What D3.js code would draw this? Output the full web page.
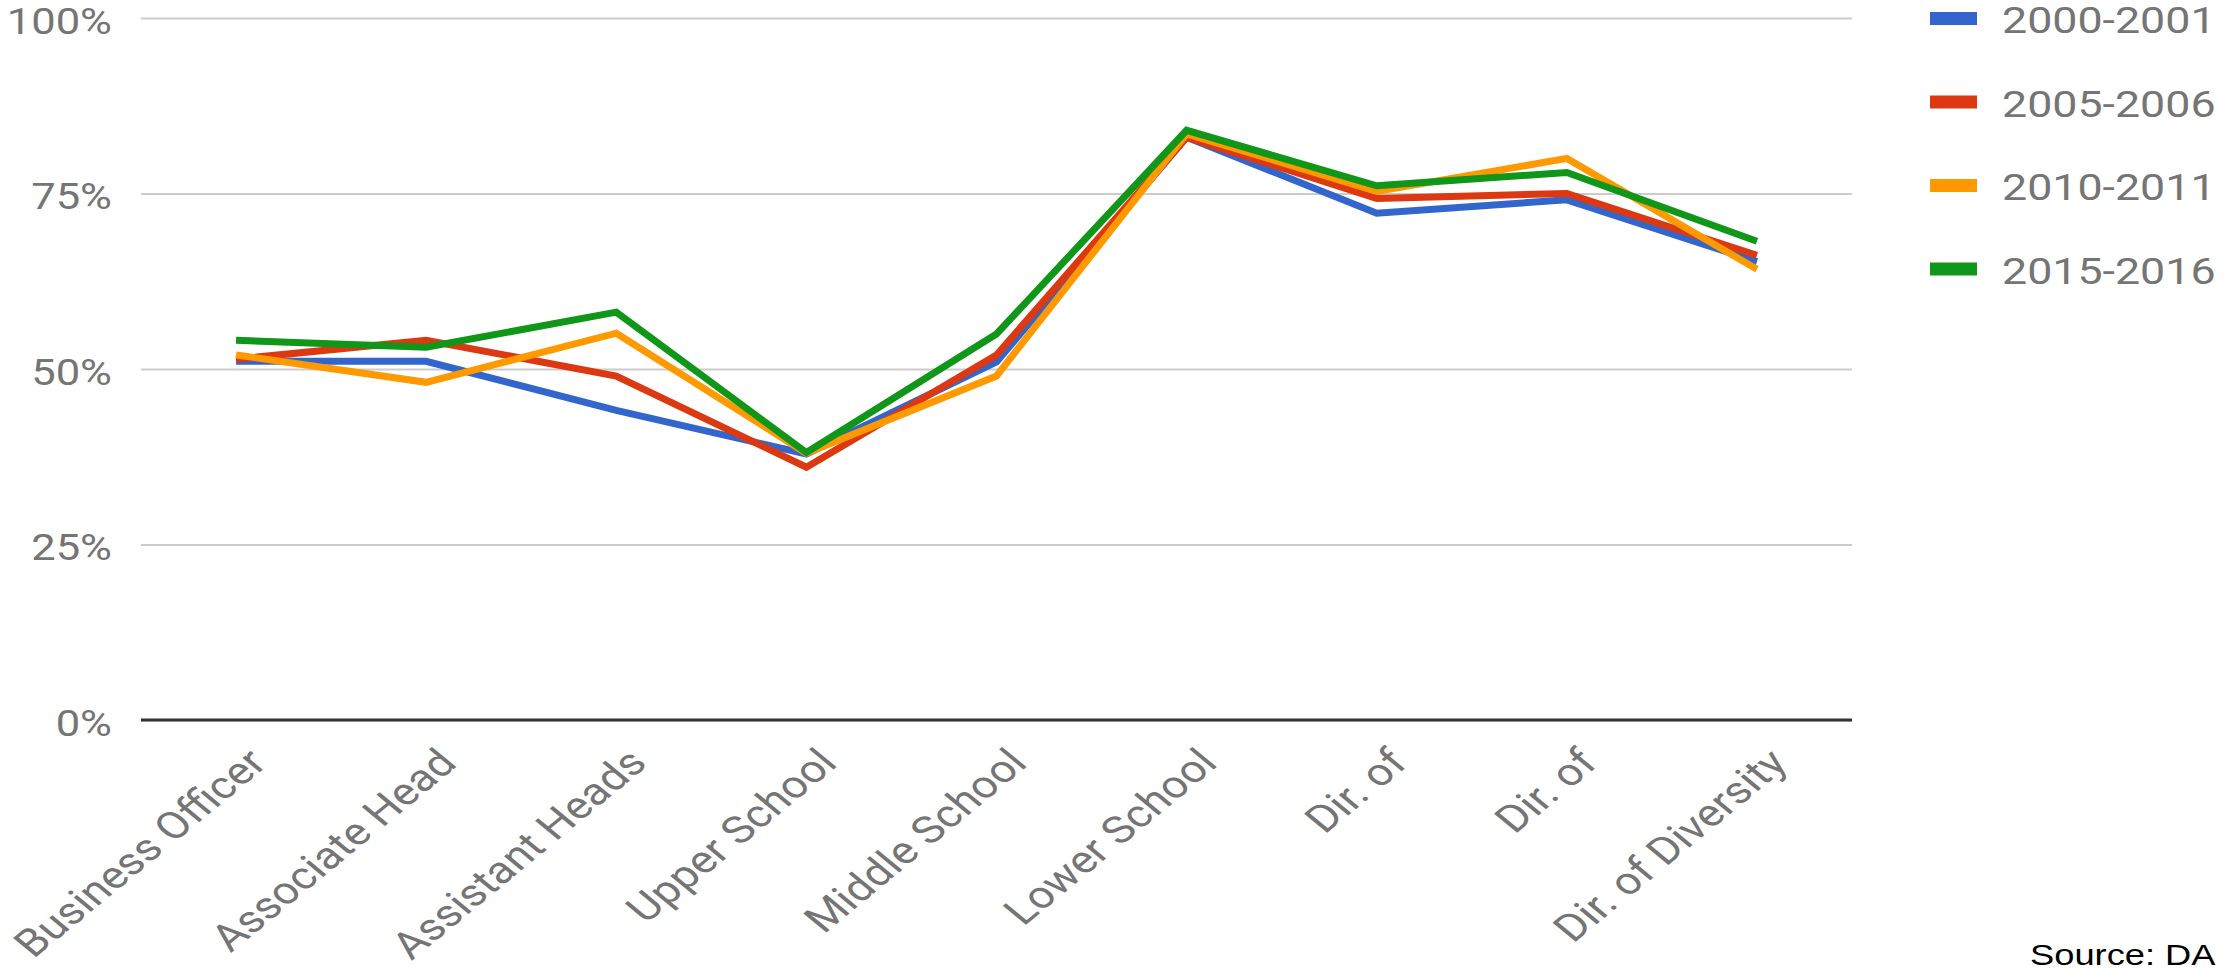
<!DOCTYPE html>
<html>
<head>
<meta charset="utf-8">
<script src="https://cdnjs.cloudflare.com/ajax/libs/d3/7.8.5/d3.min.js"></script>
<style>
  html, body { margin: 0; padding: 0; background: #ffffff; overflow: hidden; }
  svg { display: block; }
</style>
</head>
<body>
<svg id="chart" width="2229" height="973"></svg>
<script>
// ---- data ----
const categories = ["Business Officer", "Associate Head", "Assistant Heads", "Upper School",
  "Middle School", "Lower School", "Dir. of", "Dir. of", "Dir. of Diversity"];
const seriesNames = ["2000-2001", "2005-2006", "2010-2011", "2015-2016"];
const values2000 = [51.1, 51.1, 44.1, 37.9, 51.0, 83.0, 72.2, 74.1, 65.3];
const values2005 = [51.4, 54.1, 49.0, 36.0, 52.0, 83.0, 74.3, 75.0, 66.2];
const values2010 = [52.0, 48.1, 55.1, 38.0, 49.0, 83.5, 75.3, 80.0, 64.2];
const values2015 = [54.1, 53.1, 58.1, 38.1, 55.0, 84.0, 76.1, 78.0, 68.2];
const seriesColors = ["#3366cc", "#dc3912", "#ff9900", "#109618"];
const yTicks = [0, 25, 50, 75, 100];
const sourceText = "Source: DA";

const seriesValues = [values2000, values2005, values2010, values2015];

// ---- layout ----
const svg = d3.select("#chart");
const plotLeft = 141, plotRight = 1852, plotTop = 18, plotBottom = 720;
const stretch = 1.21;
const font = "Roboto, 'Noto Sans', sans-serif";
const textColor = "#757575";

const x = d3.scalePoint().domain(d3.range(categories.length)).range([plotLeft, plotRight]).padding(0.5);
const y = d3.scaleLinear().domain([0, 100]).range([plotBottom, plotTop]);

// y axis + gridlines
const yAxis = d3.axisLeft(y)
  .tickValues(yTicks)
  .tickSize(-(plotRight - plotLeft))
  .tickPadding(29)
  .tickFormat(d => d + "%");

const gy = svg.append("g").attr("transform", `translate(${plotLeft},0)`).call(yAxis);
gy.select(".domain").remove();
gy.selectAll(".tick line").attr("stroke", "#cccccc").attr("stroke-width", 2);
gy.selectAll(".tick text")
  .attr("x", null).attr("dy", null)
  .attr("transform", `translate(-29,15) scale(${stretch},1)`)
  .attr("fill", textColor)
  .attr("font-family", font)
  .attr("font-size", 36);

// baseline
svg.append("line")
  .attr("x1", plotLeft).attr("x2", plotRight)
  .attr("y1", y(0)).attr("y2", y(0))
  .attr("stroke", "#333333").attr("stroke-width", 3);

// x axis labels
const xAxis = d3.axisBottom(x).tickSize(0).tickFormat(i => categories[i]);
const gx = svg.append("g").attr("transform", `translate(0,${plotBottom})`).call(xAxis);
gx.select(".domain").remove();
gx.selectAll(".tick text")
  .attr("y", null).attr("dy", null)
  .attr("text-anchor", "end")
  .attr("transform", `translate(32,45) scale(${stretch},1) rotate(-45)`)
  .attr("fill", textColor)
  .attr("font-family", font)
  .attr("font-size", 38);

// lines
const line = d3.line().x((d, i) => x(i)).y(d => y(d));
svg.append("g").selectAll("path")
  .data(seriesValues)
  .join("path")
  .attr("d", d => line(d))
  .attr("fill", "none")
  .attr("stroke", (d, i) => seriesColors[i])
  .attr("stroke-width", 7)
  .attr("stroke-linejoin", "miter");

// legend
const legend = svg.append("g");
const legendY = d3.scalePoint().domain(d3.range(seriesNames.length)).range([18.5, 269]);
const items = legend.selectAll("g").data(seriesNames).join("g")
  .attr("transform", (d, i) => `translate(1930,${legendY(i)})`);
items.append("rect")
  .attr("x", 0).attr("y", -6.5).attr("width", 47).attr("height", 13)
  .attr("fill", (d, i) => seriesColors[i]);
items.append("text")
  .attr("transform", `translate(72,14.5) scale(${stretch},1)`)
  .attr("fill", textColor)
  .attr("font-family", font)
  .attr("font-size", 37)
  .text(d => d);

// source
svg.append("text")
  .attr("transform", `translate(2030,965) scale(${stretch},1)`)
  .attr("fill", "#000000")
  .attr("font-family", "'Liberation Sans', Arial, sans-serif")
  .attr("font-size", 30)
  .text(sourceText);
</script>
</body>
</html>
